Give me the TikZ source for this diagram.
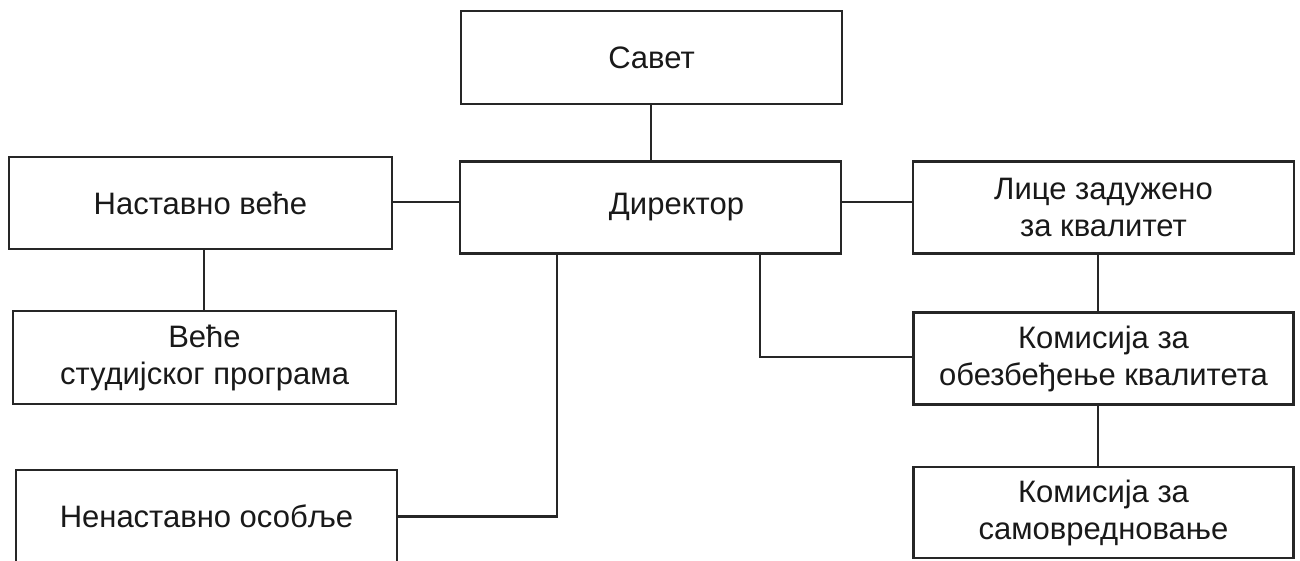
\documentclass[tikz,border=0pt]{standalone}
\usepackage{fontspec}
\setmainfont{Liberation Sans}
\begin{document}
\begin{tikzpicture}[x=1pt,y=-1pt,
  linecol/.style={draw=black!85, line width=2.5pt},
  orgbox/.style={linecol, rectangle, inner sep=0pt, align=center,
    font=\fontsize{31}{37}\selectfont, text=black!90},
  conn/.style={linecol}]
\useasboundingbox (0,0) rectangle (1300,561);
\fill[white] (0,0) rectangle (1300,561);

\node[orgbox, minimum width=381pt, minimum height=93pt] (savet) at (651.5,57.5) {Савет};
\node[orgbox, minimum width=381pt, minimum height=92pt] (dir) at (650.5,207.5) {\hspace*{52pt}Директор};
\node[orgbox, minimum width=383pt, minimum height=92pt] (nast) at (200.5,203) {Наставно веће};
\node[orgbox, minimum width=383pt, minimum height=93pt] (vece) at (204.5,357.5) {Веће\\студијског програма};
\node[orgbox, minimum width=381pt, minimum height=93pt] (nenast) at (206.5,516.5) {Ненаставно особље};
\node[orgbox, minimum width=381pt, minimum height=92pt] (lice) at (1103.5,207.5) {Лице задужено\\за квалитет};
\node[orgbox, minimum width=380pt, minimum height=92pt] (kom) at (1103.5,358.5) {Комисија за\\обезбеђење квалитета};
\node[orgbox, minimum width=380pt, minimum height=91pt] (samo) at (1103.5,512.5) {Комисија за\\самовредновање};

\draw[conn] ([xshift=-0.5pt]savet.south) -- ([xshift=0.5pt]dir.north);
\draw[conn] ([yshift=1pt]nast.east) -- ([yshift=1pt]nast.east -| dir.west);
\draw[conn] ([yshift=5.5pt]dir.east) -- ([yshift=5.5pt]lice.west);
\draw[conn] ([xshift=3.5pt]nast.south) -- ([xshift=3.5pt]nast.south |- vece.north);
\draw[conn] ([xshift=-93.5pt]dir.south) |- (nenast.east);
\draw[conn] ([xshift=109.5pt]dir.south) |- ([yshift=1.5pt]kom.west);
\draw[conn] ([xshift=-5.5pt]lice.south) -- ([xshift=-5.5pt]kom.north);
\draw[conn] ([xshift=-5.5pt]kom.south) -- ([xshift=-5.5pt]samo.north);
\end{tikzpicture}
\end{document}
